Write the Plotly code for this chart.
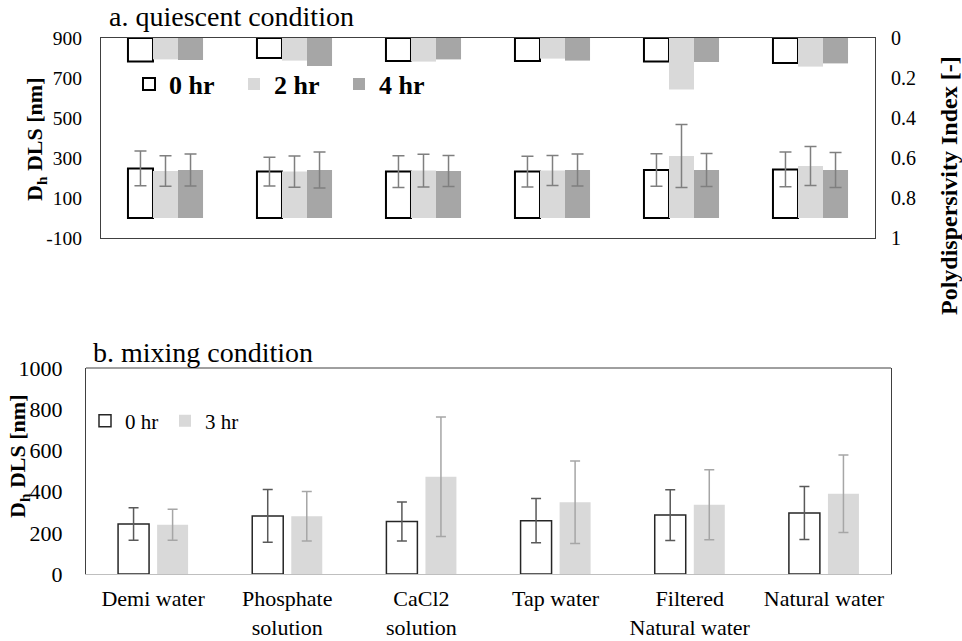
import plotly.graph_objects as go

categories = ["Demi water", "Phosphate<br>solution", "CaCl2<br>solution",
              "Tap water", "Filtered<br>Natural water", "Natural water"]

# a. quiescent condition: hydrodynamic diameter [nm]
q_dh_0 = [248, 232, 232, 232, 240, 243]
q_dh_0_err = [87, 72, 79, 77, 81, 87]
q_dh_2 = [235, 232, 237, 237, 310, 260]
q_dh_2_err = [76, 78, 82, 75, 157, 98]
q_dh_4 = [240, 240, 235, 240, 240, 240]
q_dh_4_err = [80, 90, 77, 80, 82, 87]
# a. quiescent condition: polydispersity index [-]
q_pdi_0 = [0.118, 0.100, 0.115, 0.115, 0.118, 0.125]
q_pdi_2 = [0.107, 0.113, 0.118, 0.103, 0.257, 0.143]
q_pdi_4 = [0.110, 0.140, 0.107, 0.113, 0.120, 0.127]

# b. mixing condition: hydrodynamic diameter [nm]
m_dh_0 = [243, 282, 255, 259, 286, 296]
m_dh_0_err = [79, 128, 95, 107, 123, 129]
m_dh_3 = [239, 280, 472, 348, 336, 390]
m_dh_3_err = [75, 120, 290, 200, 170, 188]

left_ticks_a = [-100, 100, 300, 500, 700, 900]
left_ticklabels_a = ["-100", "100", "300", "500", "700", "900"]
right_ticks_a = [0, 0.2, 0.4, 0.6, 0.8, 1]
right_ticklabels_a = ["0", "0.2", "0.4", "0.6", "0.8", "1"]
left_ticks_b = [0, 200, 400, 600, 800, 1000]
left_ticklabels_b = ["0", "200", "400", "600", "800", "1000"]

FONT = "Liberation Serif"
W, H = 962, 641

def px_x(p):
    return p / W

def px_y(p):
    return 1 - p / H

fig = go.Figure()

# ---------- top panel ----------
wa = 0.194
offs_a = [-0.291, -0.097, 0.097]
err_col_a = "#7f7f7f"
specs_a = [
    ("0 hr", q_dh_0, q_dh_0_err, q_pdi_0, "white", "#000000", 2),
    ("2 hr", q_dh_2, q_dh_2_err, q_pdi_2, "#d9d9d9", "#d9d9d9", 0),
    ("4 hr", q_dh_4, q_dh_4_err, q_pdi_4, "#a6a6a6", "#a6a6a6", 0),
]
for (name, dh, err, pdi, fill, lc, lw), off in zip(specs_a, offs_a):
    fig.add_trace(go.Bar(
        x=categories, y=dh, name=name, xaxis="x", yaxis="y",
        offset=off, width=wa,
        marker=dict(color=fill, line=dict(color=lc, width=lw)),
        error_y=dict(type="data", array=err, color=err_col_a, thickness=1.5, width=6),
        legend="legend", showlegend=True,
    ))
    fig.add_trace(go.Bar(
        x=categories, y=pdi, name=name, xaxis="x", yaxis="y2",
        offset=off, width=wa,
        marker=dict(color=fill, line=dict(color=lc, width=lw)),
        showlegend=False,
    ))

# ---------- bottom panel ----------
wb = 0.231
offs_b = [-0.261, 0.030]
specs_b = [
    ("0 hr", m_dh_0, m_dh_0_err, "white", "#262626", 1.5, "#595959"),
    ("3 hr", m_dh_3, m_dh_3_err, "#d9d9d9", "#d9d9d9", 0, "#a6a6a6"),
]
for (name, dh, err, fill, lc, lw, ec), off in zip(specs_b, offs_b):
    fig.add_trace(go.Bar(
        x=categories, y=dh, name=name, xaxis="x2", yaxis="y3",
        offset=off, width=wb,
        marker=dict(color=fill, line=dict(color=lc, width=lw)),
        error_y=dict(type="data", array=err, color=ec, thickness=1.5, width=5),
        legend="legend2", showlegend=True,
    ))

frame = "#404040"
dom_x_a = [px_x(101), px_x(875)]
dom_y_a = [px_y(238), px_y(38)]
dom_x_b = [px_x(86), px_x(891)]
dom_y_b = [px_y(574), px_y(368)]

fig.update_layout(
    width=W, height=H,
    margin=dict(l=0, r=0, t=0, b=0, autoexpand=False),
    paper_bgcolor="white", plot_bgcolor="white",
    font=dict(family=FONT, color="#000000"),
    barmode="overlay",
    xaxis=dict(domain=dom_x_a, anchor="y", type="category", automargin=False,
               categoryorder="array", categoryarray=categories,
               showticklabels=False, ticks="", showgrid=False, zeroline=False,
               showline=True, mirror=True, linecolor=frame, linewidth=1),
    yaxis=dict(domain=dom_y_a, anchor="x", range=[-100, 900], autorange=False,
               automargin=False,
               tickvals=left_ticks_a, ticktext=left_ticklabels_a, ticks="",
               showgrid=False, zeroline=False,
               showline=True, mirror=True, linecolor=frame, linewidth=1,
               tickfont=dict(size=19.5, family=FONT, color="#000000"),
               ticklabelstandoff=14),
    yaxis2=dict(overlaying="y", anchor="x", side="right", range=[1, 0], autorange=False,
                automargin=False,
                tickvals=right_ticks_a, ticktext=right_ticklabels_a, ticks="",
                showgrid=False, zeroline=False, showline=False,
                tickfont=dict(size=20, family=FONT, color="#000000"),
                ticklabelstandoff=15),
    xaxis2=dict(domain=dom_x_b, anchor="y3", type="category", automargin=False,
                categoryorder="array", categoryarray=categories,
                ticks="", showgrid=False, zeroline=False,
                showline=True, mirror=False, linecolor="#bfbfbf", linewidth=1,
                tickfont=dict(size=22, family=FONT, color="#000000"),
                ticklabelstandoff=5),
    yaxis3=dict(domain=dom_y_b, anchor="x2", range=[0, 1000], autorange=False,
                automargin=False,
                tickvals=left_ticks_b, ticktext=left_ticklabels_b, ticks="",
                showgrid=False, zeroline=False,
                showline=True, mirror=True, linecolor=frame, linewidth=1,
                tickfont=dict(size=22, family=FONT, color="#000000"),
                ticklabelstandoff=18),
    legend=dict(orientation="h", x=px_x(129), y=px_y(84), xanchor="left", yanchor="middle",
                font=dict(size=26, family=FONT, color="#000000", weight="bold"),
                bgcolor="rgba(0,0,0,0)", entrywidth=60, traceorder="normal",
                borderwidth=0),
    legend2=dict(orientation="h", x=px_x(85), y=px_y(421), xanchor="left", yanchor="middle",
                 font=dict(size=21, family=FONT, color="#000000"),
                 bgcolor="rgba(0,0,0,0)", entrywidth=35, traceorder="normal",
                 borderwidth=0),
    shapes=[dict(type="line", xref="x2 domain", yref="y3 domain", x0=0, x1=1, y0=1, y1=1,
                 line=dict(color=frame, width=1), layer="above")],
    annotations=[
        dict(text="a. quiescent condition", xref="paper", yref="paper",
             x=px_x(107), y=px_y(17), xanchor="left", yanchor="middle", showarrow=False,
             font=dict(size=28, family=FONT, color="#000000")),
        dict(text="b. mixing condition", xref="paper", yref="paper",
             x=px_x(91), y=px_y(352), xanchor="left", yanchor="middle", showarrow=False,
             font=dict(size=28, family=FONT, color="#000000")),
        dict(text="<b>D<sub>h</sub> DLS [nm]</b>", xref="paper", yref="paper",
             x=px_x(36), y=px_y(140), xanchor="center", yanchor="middle", showarrow=False,
             textangle=-90, font=dict(size=22, family=FONT, color="#000000")),
        dict(text="<b>D<sub>h</sub> DLS [nm]</b>", xref="paper", yref="paper",
             x=px_x(19), y=px_y(457), xanchor="center", yanchor="middle", showarrow=False,
             textangle=-90, font=dict(size=22, family=FONT, color="#000000")),
        dict(text="<b>Polydispersivity Index [-]</b>", xref="paper", yref="paper",
             x=px_x(949), y=px_y(186), xanchor="center", yanchor="middle", showarrow=False,
             textangle=-90, font=dict(size=24, family=FONT, color="#000000")),
    ],
)

fig.write_html("out.html")
